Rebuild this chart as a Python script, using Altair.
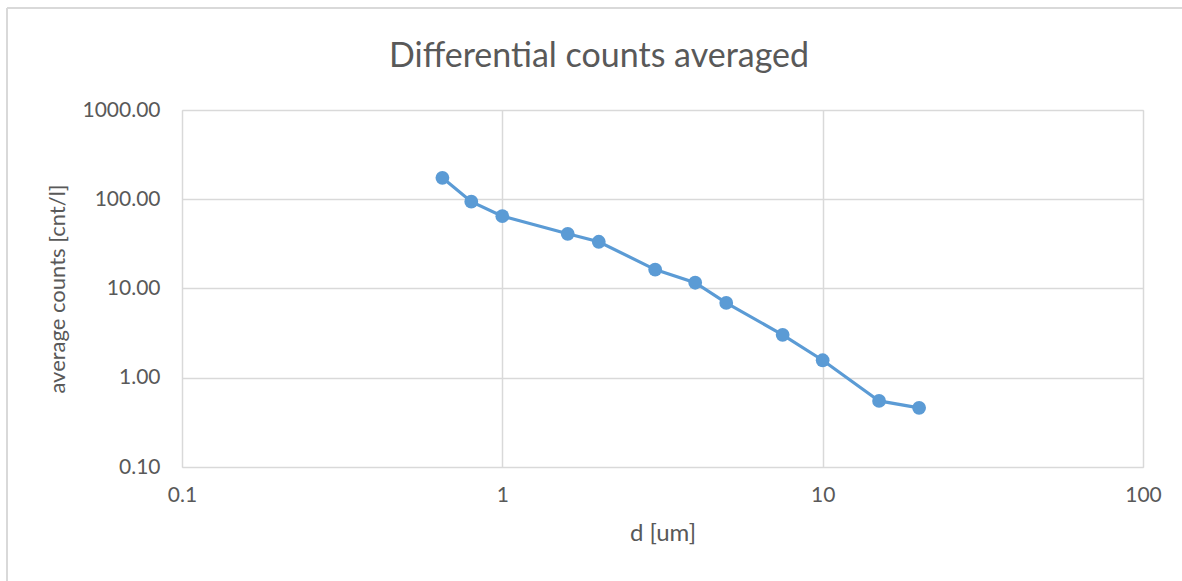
import altair as alt
import pandas as pd

# Data
d_um = [0.65, 0.8, 1.0, 1.6, 2.0, 3.0, 4.0, 5.0, 7.5, 10.0, 15.0, 20.0]
avg_counts = [174, 94, 64.6, 41, 33.4, 16.3, 11.6, 6.9, 3.03, 1.57, 0.55, 0.46]
x_ticks = [0.1, 1, 10, 100]
y_ticks = [0.1, 1, 10, 100, 1000]
chart_title = ["Differential counts averaged"]

df = pd.DataFrame({"d": d_um, "c": avg_counts})
title_df = pd.DataFrame({"t": chart_title})

FONT = "Lato"
TXT = "#595959"
GRID = "#d9d9d9"
BLUE = "#5b9bd5"

x_enc = alt.X(
    "d:Q",
    scale=alt.Scale(type="log", domain=[0.1, 100], nice=False),
    axis=alt.Axis(
        values=x_ticks, format="~g", title="d [um]",
        grid=True, gridColor=GRID, gridWidth=1.5,
        domain=False, ticks=False, labelFlush=False,
        labelPadding=17, labelFontSize=21, labelColor=TXT, labelFont=FONT,
        titleFontSize=24, titleColor=TXT, titleFont=FONT, titleFontWeight="normal",
        titlePadding=16,
    ),
)
y_enc = alt.Y(
    "c:Q",
    scale=alt.Scale(type="log", domain=[0.1, 1000], nice=False),
    axis=alt.Axis(
        values=y_ticks, format=".2f", title="average counts [cnt/l]",
        grid=True, gridColor=GRID, gridWidth=1.5,
        domain=False, ticks=False,
        labelPadding=22, labelFontSize=21, labelColor=TXT, labelFont=FONT,
        titleFontSize=22, titleColor=TXT, titleFont=FONT, titleFontWeight="normal",
        titlePadding=12,
    ),
)

line = alt.Chart(df).mark_line(color=BLUE, strokeWidth=3.2).encode(x=x_enc, y=y_enc)
pts = alt.Chart(df).mark_circle(color=BLUE, size=190, opacity=1).encode(x="d:Q", y="c:Q")

# chart title as a text mark (so it is not pushed above the border decoration)
title = alt.Chart(title_df).mark_text(
    font=FONT, fontSize=34, color=TXT, align="center", baseline="alphabetic"
).encode(text="t:N", x=alt.value(417), y=alt.value(-43))

# outer chart border (left and top edges)
border_left = alt.Chart(title_df).mark_rule(color=GRID, strokeWidth=2).encode(
    x=alt.value(-175), y=alt.value(-102), y2=alt.value(471)
)
border_top = alt.Chart(title_df).mark_rule(color=GRID, strokeWidth=2).encode(
    x=alt.value(-175), x2=alt.value(1000), y=alt.value(-102)
)

chart = (
    alt.layer(border_left, border_top, line, pts, title)
    .properties(
        width=961,
        height=357,
        autosize=alt.AutoSizeParams(type="none"),
        padding={"left": 182, "top": 110, "right": 39, "bottom": 114},
    )
    .configure_view(stroke=None)
    .configure(background="white")
)

chart.save("out.html", embed_options={"renderer": "svg", "actions": False})
